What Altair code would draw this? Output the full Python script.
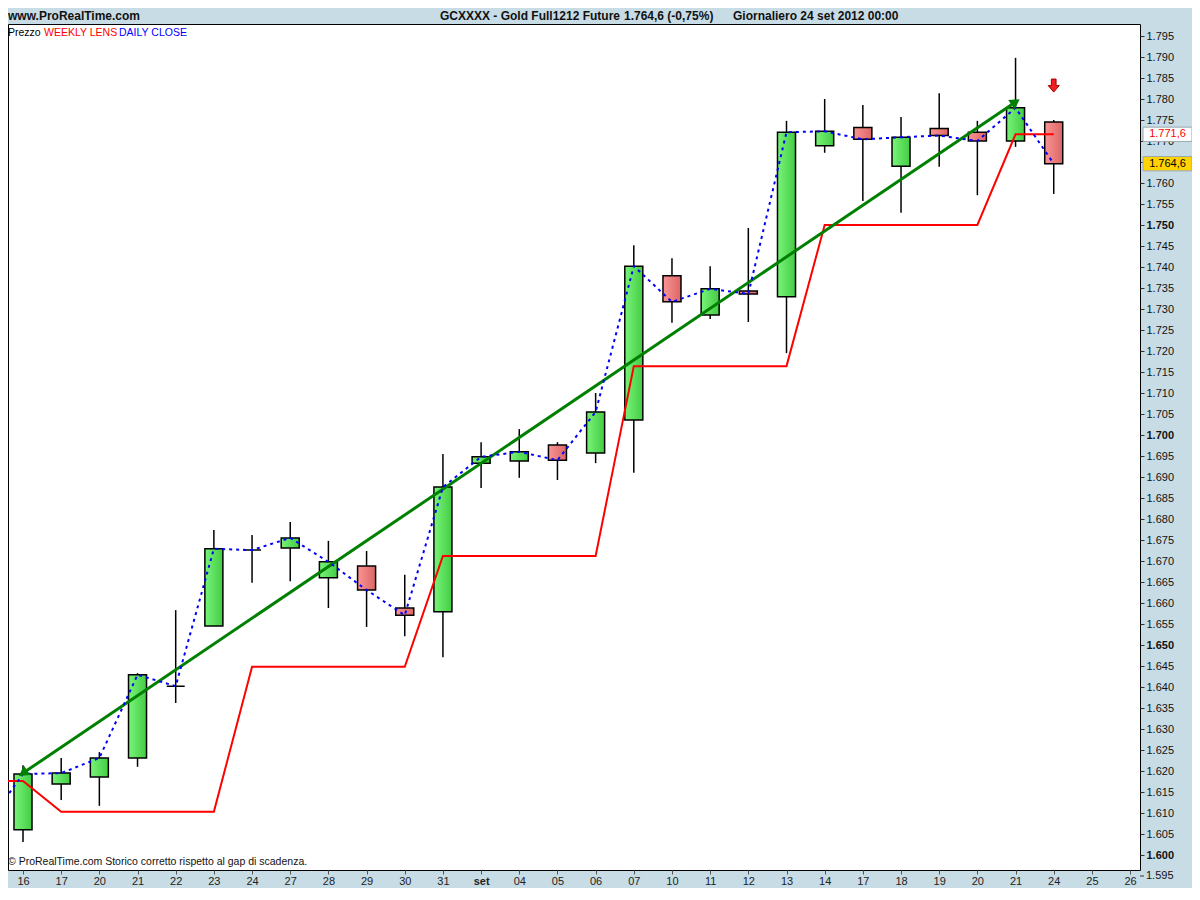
import altair as alt
import pandas as pd

# ---------------- data ----------------
dates = ["16", "17", "20", "21", "22", "23", "24", "27", "28", "29", "30", "31", "set",
         "04", "05", "06", "07", "10", "11", "12", "13", "14", "17", "18", "19", "20",
         "21", "24", "25", "26"]
opens = [1606.0, 1616.9, 1618.6, 1623.1, 1640.2, 1654.5, 1672.6, 1673.1, 1666.0, 1668.8,
         1658.8, 1657.9, 1693.3, 1693.8, 1697.6, 1695.7, 1703.6, 1737.9, 1728.6, 1734.3,
         1732.9, 1768.9, 1773.2, 1764.0, 1773.0, 1772.1, 1770.0, 1774.5]
highs = [1621.4, 1623.1, 1624.5, 1643.3, 1658.3, 1677.4, 1676.2, 1679.3, 1674.8, 1672.4,
         1666.7, 1695.5, 1698.3, 1701.4, 1698.3, 1710.0, 1745.2, 1742.1, 1740.2, 1749.3,
         1774.8, 1780.0, 1778.6, 1775.7, 1781.4, 1774.8, 1789.8, 1775.0]
lows = [1603.1, 1613.1, 1611.7, 1621.0, 1636.2, 1654.5, 1664.8, 1665.2, 1658.8, 1654.3,
        1652.1, 1647.1, 1687.4, 1689.8, 1689.3, 1693.3, 1691.0, 1726.7, 1727.6, 1726.9,
        1719.5, 1767.2, 1755.7, 1752.9, 1763.9, 1757.1, 1768.6, 1757.4]
closes = [1619.3, 1619.5, 1623.1, 1642.9, 1640.2, 1672.9, 1672.6, 1675.5, 1669.8, 1663.1,
          1657.1, 1687.6, 1694.8, 1696.0, 1694.0, 1705.5, 1740.2, 1731.7, 1734.8, 1733.6,
          1772.1, 1772.3, 1770.4, 1770.9, 1771.3, 1770.0, 1777.9, 1764.6]
prev_close = 1606.6          # close of the day before the first candle
weekly_lens = [1617.6, 1617.6, 1610.3, 1610.3, 1610.3, 1610.3, 1610.3, 1644.8, 1644.8, 1644.8,
               1644.8, 1644.8, 1671.2, 1671.2, 1671.2, 1671.2, 1671.2, 1716.4, 1716.4, 1716.4,
               1716.4, 1716.4, 1750.0, 1750.0, 1750.0, 1750.0, 1750.0, 1771.6, 1771.6]  # idx -1..27
trend_idx = [0, 26]
trend_val = [1619.5, 1779.3]
trend_angle = [235.8, 55.8]
signal_idx = [27]
signal_val = [1783.2]
y_ticks = list(range(1600, 1800, 5))
y_extra_tick = [1595]


def it(v, d=1):
    s = f"{v:,.{d}f}"
    return s.replace(",", "X").replace(".", ",").replace("X", ".")


last_close = closes[-1]
pct = (closes[-1] / closes[-2] - 1) * 100
last_lens = weekly_lens[-1]

# ---------------- tables ----------------
n = len(opens)
candles = pd.DataFrame({
    "idx": list(range(n)), "open": opens, "high": highs, "low": lows, "close": closes,
})
candles["x0"] = candles["idx"] - 0.236
candles["x1"] = candles["idx"] + 0.236
up = candles[candles["close"] >= candles["open"]]
down = candles[candles["close"] < candles["open"]]

close_line = pd.DataFrame({"idx": list(range(-1, n)), "v": [prev_close] + closes})
lens_line = pd.DataFrame({"idx": list(range(-1, n)), "v": weekly_lens})
trend = pd.DataFrame({"idx": trend_idx, "v": trend_val, "ang": trend_angle})
signal = pd.DataFrame({"idx": signal_idx, "v": signal_val})
boxes = pd.DataFrame({"v": [last_lens, last_close], "t": [it(last_lens), it(last_close)]})
boxes["top"] = boxes["v"] + 1.7
boxes["bot"] = boxes["v"] - 1.7
extra = pd.DataFrame({"v": y_extra_tick, "t": [it(v, 0) for v in y_extra_tick]})

# ---------------- scales / axes ----------------
XS = alt.Scale(domain=[-0.393, 29.26], nice=False, zero=False)
YS = alt.Scale(domain=[1596.43, 1797.86], nice=False, zero=False)
date_arr = "[" + ",".join("'" + d + "'" for d in dates) + "]"
XAX = alt.Axis(values=list(range(len(dates))), labelExpr=date_arr + "[datum.value]", title=None,
               grid=False, domain=False, tickSize=4, tickColor="#555", labelPadding=1,
               labelFontSize=11, labelColor="#222",
               labelFontWeight={"condition": {"test": "datum.value == 12", "value": "bold"},
                                "value": "normal"})
YAX = alt.Axis(orient="right", values=y_ticks, title=None, grid=False, domain=False,
               tickSize=4, tickColor="#333", labelPadding=2, labelFontSize=11,
               labelColor="#111", labelFlush=False, labelOverlap=False,
               labelExpr="replace(format(datum.value, ',.0f'), ',', '.')",
               labelFontWeight={"condition": {"test": "datum.value % 50 == 0", "value": "bold"},
                                "value": "normal"})


def X(f):
    return alt.X(f, type="quantitative", scale=XS, axis=XAX)


def Y(f):
    return alt.Y(f, type="quantitative", scale=YS, axis=YAX)


green_grad = alt.Gradient(gradient="linear", x1=0, x2=1, y1=0, y2=0,
                          stops=[alt.GradientStop(color="#78f478", offset=0),
                                 alt.GradientStop(color="#44cc44", offset=1)])
red_grad = alt.Gradient(gradient="linear", x1=0, x2=1, y1=0, y2=0,
                        stops=[alt.GradientStop(color="#fa9494", offset=0),
                               alt.GradientStop(color="#dc6666", offset=1)])

wicks = alt.Chart(candles).mark_rule(color="black", strokeWidth=1.5, clip=True).encode(
    x=X("idx"), y=Y("low"), y2="high")
up_bodies = alt.Chart(up).mark_rect(fill=green_grad, stroke="black", strokeWidth=1.5,
                                    clip=True).encode(
    x=X("x0"), x2="x1", y=Y("open"), y2="close")
down_bodies = alt.Chart(down).mark_rect(fill=red_grad, stroke="black", strokeWidth=1.5,
                                        clip=True).encode(
    x=X("x0"), x2="x1", y=Y("open"), y2="close")
lens = alt.Chart(lens_line).mark_line(color="#ff0000", strokeWidth=2, clip=True).encode(
    x=X("idx"), y=Y("v"))
daily = alt.Chart(close_line).mark_line(color="#0000ff", strokeWidth=2, strokeDash=[3, 4],
                                        clip=True).encode(x=X("idx"), y=Y("v"))
trend_line = alt.Chart(trend).mark_line(color="#008000", strokeWidth=3, clip=True).encode(
    x=X("idx"), y=Y("v"))
trend_heads = alt.Chart(trend).mark_point(shape="triangle-up", filled=True, color="#008000",
                                          size=130, opacity=1).encode(
    x=X("idx"), y=Y("v"), angle=alt.Angle("ang:Q", scale=None))
signal_arrow = alt.Chart(signal).mark_point(
    shape="M-0.36,-1L0.36,-1L0.36,0L0.85,0L0,1L-0.85,0L-0.36,0Z",
    filled=True, fill="#f02020", stroke="#a00000", strokeWidth=1, size=170, opacity=1).encode(
    x=X("idx"), y=Y("v"))

# last tick label below the plot frame (same scale, outside the domain)
extra_tick = alt.Chart(extra).mark_rule(color="#333").encode(
    y=Y("v"), x=alt.value(1132), x2=alt.value(1136))
extra_label = alt.Chart(extra).mark_text(align="left", baseline="middle", fontSize=11,
                                         color="#111").encode(
    y=Y("v"), x=alt.value(1138), text="t:N")

box_rects = alt.Chart(boxes).mark_rect(stroke="#9aa8b0", strokeWidth=1).encode(
    y=Y("top"), y2="bot", x=alt.value(1135), x2=alt.value(1184),
    fill=alt.Fill("t:N", scale=alt.Scale(domain=[it(last_lens), it(last_close)],
                                         range=["#ffffff", "#ffd400"]), legend=None))
box_text = alt.Chart(boxes).mark_text(fontSize=11, align="center", baseline="middle").encode(
    y=Y("v"), x=alt.value(1159.5), text="t:N",
    color=alt.Color("t:N", scale=alt.Scale(domain=[it(last_lens), it(last_close)],
                                           range=["#ff0000", "#000000"]), legend=None))


def label(txt, x, y, color="black", size=11, weight="normal"):
    return alt.Chart(pd.DataFrame({"t": [txt]})).mark_text(
        align="left", baseline="middle", fontSize=size, fontWeight=weight, color=color).encode(
        text="t:N", x=alt.value(x), y=alt.value(y))


pct_s = f"{pct:.2f}".replace(".", ",")
header = [
    label("www.ProRealTime.com", 0, -8, "#111", 12, "bold"),
    label("GCXXXX - Gold Full1212 Future", 432, -8, "#111", 12, "bold"),
    label(f"{it(last_close)} ({pct_s}%)", 616, -8, "#111", 12, "bold"),
    label("Giornaliero  24 set 2012 00:00", 725, -8, "#111", 12, "bold"),
]
legend_txt = [
    label("Prezzo", 0, 9, "black", 10.5),
    label("WEEKLY LENS", 36, 9, "#ff0000", 10.5),
    label("DAILY CLOSE", 111, 9, "#0000ff", 10.5),
]
footer = [label("\u00a9 ProRealTime.com  Storico corretto rispetto al gap di scadenza.", 0, 838,
                "#111", 10.5)]

chart = alt.layer(
    wicks, up_bodies, down_bodies, lens, trend_line, daily, trend_heads, signal_arrow,
    extra_tick, extra_label, box_rects, box_text, *header, *legend_txt, *footer
).resolve_scale(color="independent", fill="independent").properties(
    width=1132, height=846,
    autosize=alt.AutoSizeParams(type="none"),
    padding={"left": 0, "top": 16, "right": 52, "bottom": 18},
    background="#c8dce6",
).configure(font="Liberation Sans").configure_view(fill="white", stroke="black", strokeWidth=1)

chart.save("out.html", embed_options={"renderer": "svg", "actions": False})
